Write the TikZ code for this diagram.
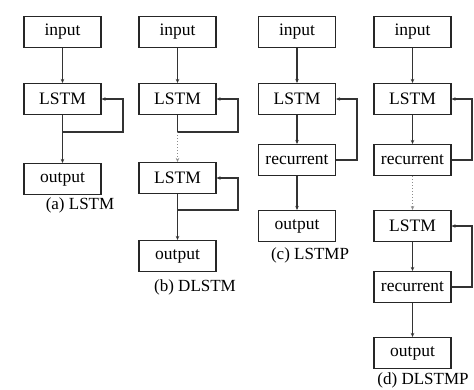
\documentclass[tikz,border=0pt]{standalone}
\usepackage{fontspec}
\setmainfont{Liberation Serif}
\usetikzlibrary{arrows.meta}
\begin{document}
\begin{tikzpicture}[x=1pt,y=-1pt,
  blk/.style={draw=black!85,line width=1.1pt,minimum width=77pt,minimum height=31pt,inner sep=0pt,font=\fontsize{17.5}{19}\selectfont},
  captxt/.style={font=\fontsize{17}{19}\selectfont,inner sep=0pt},
  conn/.style={draw=black!80,line width=1.1pt,-{Stealth[length=4pt,width=3.5pt]}},
  dconn/.style={draw=black!45,line width=1pt,dotted,-{Stealth[length=4pt,width=3.5pt]}},
  fb/.style={draw=black!80,line width=1.1pt,-{Stealth[length=4pt,width=3.5pt]}}]
\useasboundingbox (0,0) rectangle (474,389);
% (a)
\node[blk] (ai) at (62.5,32) {input};
\node[blk] (al) at (62.5,99) {LSTM};
\node[blk] (ao) at (62.5,179) {output};
\coordinate (ap) at (62.5,132);
\coordinate (ar) at (123,132);
\draw[conn] (ai) -- (al);
\draw[conn] (al) -- (ao);
\draw[fb] (ap) -- (ar) |- (al.east);
\node[captxt] (ac) at (80,205) {(a) LSTM};
% (b)
\node[blk] (bi) at (177.5,32) {input};
\node[blk] (bl1) at (177.5,99) {LSTM};
\node[blk] (bl2) at (177.5,178) {LSTM};
\node[blk] (bo) at (177.5,256) {output};
\coordinate (bp1) at (177.5,132);
\coordinate (br1) at (238,132);
\coordinate (bp2) at (177.5,210);
\coordinate (br2) at (238,210);
\draw[conn] (bi) -- (bl1);
\draw[draw=black!80,line width=1.1pt] (bl1.south) -- (bp1);
\draw[dconn] (bp1) -- (bl2);
\draw[fb] (bp1) -- (br1) |- (bl1.east);
\draw[conn] (bl2) -- (bo);
\draw[fb] (bp2) -- (br2) |- (bl2.east);
\node[captxt] (bc) at (195,287) {(b) DLSTM};
% (c)
\node[blk] (ci) at (297,32) {input};
\node[blk] (cl) at (297,99) {LSTM};
\node[blk] (cr) at (297,160) {recurrent};
\node[blk] (co) at (297,226) {output};
\coordinate (cx) at (357,160);
\draw[conn] (ci) -- (cl);
\draw[conn] (cl) -- (cr);
\draw[conn] (cr) -- (co);
\draw[fb] (cr.east) -- (cx) |- (cl.east);
\node[captxt] (cc) at (310,255) {(c) LSTMP};
% (d)
\node[blk] (di) at (412.5,32) {input};
\node[blk] (dl1) at (412.5,99) {LSTM};
\node[blk] (dr1) at (412.5,160) {recurrent};
\node[blk] (dl2) at (412.5,226) {LSTM};
\node[blk] (dr2) at (412.5,287) {recurrent};
\node[blk] (dout) at (412.5,353) {output};
\coordinate (dx1) at (472,160);
\coordinate (dx2) at (472,287);
\draw[conn] (di) -- (dl1);
\draw[conn] (dl1) -- (dr1);
\draw[dconn] (dr1) -- (dl2);
\draw[conn] (dl2) -- (dr2);
\draw[conn] (dr2) -- (dout);
\draw[fb] (dr1.east) -- (dx1) |- (dl1.east);
\draw[fb] (dr2.east) -- (dx2) |- (dl2.east);
\node[captxt] (dc) at (423,380) {(d) DLSTMP};
\end{tikzpicture}
\end{document}
